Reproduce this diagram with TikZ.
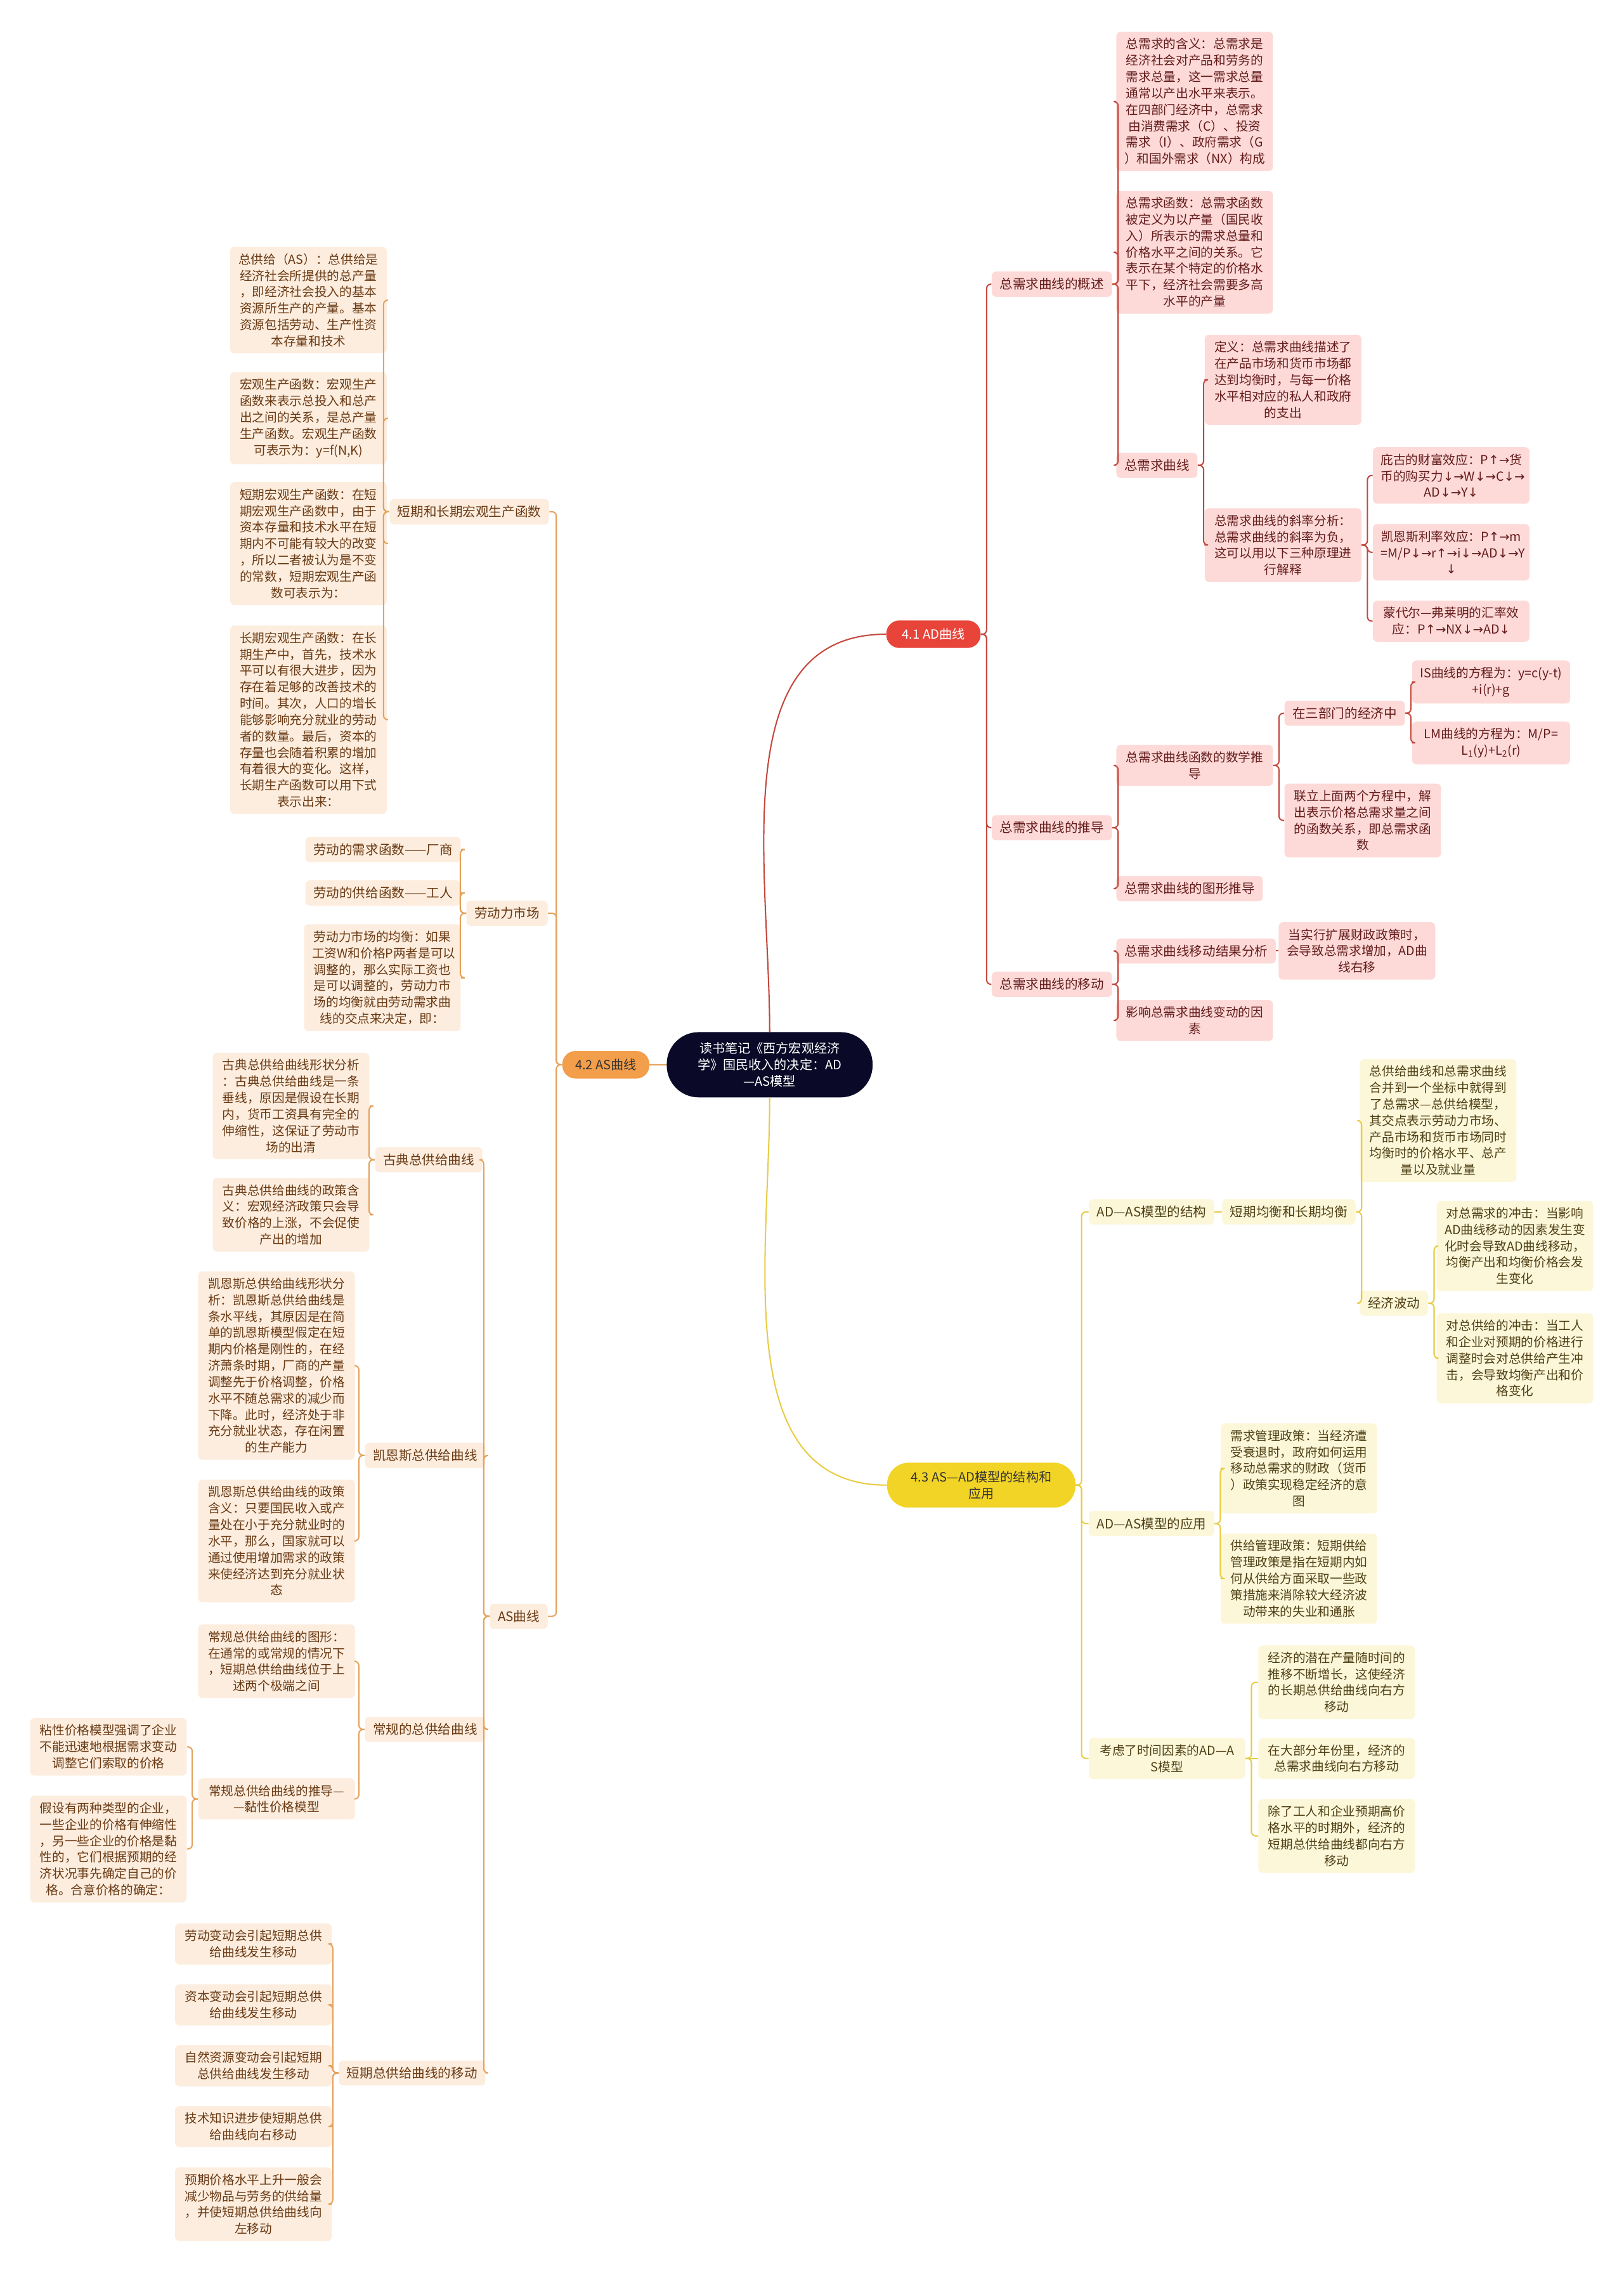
\documentclass[tikz,border=0pt]{standalone}
\usepackage{fontspec}
\setmainfont{Noto Sans CJK SC}
\newfontfamily\symfont{DejaVu Sans}
\newcommand{\arU}{{\symfont ↑}}
\newcommand{\arD}{{\symfont ↓}}
\newcommand{\arR}{{\symfont →}}
\definecolor{rootbg}{RGB}{10,10,40}
\definecolor{redhd}{RGB}{232,68,58}
\definecolor{redln}{RGB}{196,72,62}
\definecolor{redlt}{RGB}{253,218,216}
\definecolor{redtx}{RGB}{100,28,28}
\definecolor{orahd}{RGB}{243,158,74}
\definecolor{oraln}{RGB}{228,162,92}
\definecolor{oralt}{RGB}{253,237,222}
\definecolor{oratx}{RGB}{105,58,20}
\definecolor{yelhd}{RGB}{242,212,38}
\definecolor{yelln}{RGB}{232,204,70}
\definecolor{yellt}{RGB}{253,247,218}
\definecolor{yeltx}{RGB}{78,64,20}

\begin{document}
\begin{tikzpicture}
[x=1pt,y=-1pt, % pixel-like units, y grows downward
every node/.style={inner xsep=5.5pt,inner ysep=4.5pt,rounded corners=3pt},
lbl/.style={font=\fontsize{9}{11.3}\selectfont},
box/.style={font=\fontsize{8.6}{11.3}\selectfont,text width=97pt,align=center},
pill/.style={font=\fontsize{8.8}{11.3}\selectfont,align=center},
rn/.style={fill=redlt,text=redtx},
on/.style={fill=oralt,text=oratx},
yn/.style={fill=yellt,text=yeltx},
rcon/.style={draw=redln,line width=0.9pt,rounded corners=3pt},
ocon/.style={draw=oraln,line width=0.9pt,rounded corners=3pt},
ycon/.style={draw=yelln,line width=0.9pt,rounded corners=3pt}]
\useasboundingbox[fill=white] (0,0) rectangle (1120,1568);

% centre and main topics
\node[pill,fill=rootbg,text=white,rounded corners=22pt,minimum width=142pt,minimum height=45pt] (root) at (531,734.5)
  {读书笔记《西方宏观经济\\学》国民收入的决定：AD\\—AS模型};
\node[pill,fill=redhd,text=white,rounded corners=9pt,minimum width=65pt,minimum height=19pt] (a41) at (644,437.5) {4.1 AD曲线};
\node[pill,fill=orahd,text=black!80,rounded corners=9pt,minimum width=60pt,minimum height=19pt] (a42) at (418,734.5) {4.2 AS曲线};
\node[pill,fill=yelhd,text=black!80,rounded corners=15pt,minimum width=130pt,minimum height=31pt] (a43) at (677,1024.5) {4.3 AS—AD模型的结构和\\应用};

% 4.1 AD曲线
\node[lbl,rn,anchor=west] (gaishu) at (684,196) {总需求曲线的概述};
\node[lbl,rn,anchor=west] (tuidao) at (684,571) {总需求曲线的推导};
\node[lbl,rn,anchor=west] (yidong) at (684,679) {总需求曲线的移动};
\node[box,rn,anchor=west] (han) at (770,70) {总需求的含义：总需求是\\经济社会对产品和劳务的\\需求总量，这一需求总量\\通常以产出水平来表示。\\在四部门经济中，总需求\\由消费需求（C）、投资\\需求（I）、政府需求（G\\）和国外需求（NX）构成};
\node[box,rn,anchor=west] (hanshu) at (770,174) {总需求函数：总需求函数\\被定义为以产量（国民收\\入）所表示的需求总量和\\价格水平之间的关系。它\\表示在某个特定的价格水\\平下，经济社会需要多高\\水平的产量};
\node[lbl,rn,anchor=west] (zqx) at (770,321) {总需求曲线};
\node[box,rn,anchor=west] (dingyi) at (831,262) {定义：总需求曲线描述了\\在产品市场和货币市场都\\达到均衡时，与每一价格\\水平相对应的私人和政府\\的支出};
\node[box,rn,anchor=west] (xielv) at (831,376) {总需求曲线的斜率分析：\\总需求曲线的斜率为负，\\这可以用以下三种原理进\\行解释};
\node[box,rn,anchor=west] (pigu) at (947,328) {庇古的财富效应：P\arU\arR 货\\币的购买力\arD\arR W\arD\arR C\arD\arR\\AD\arD\arR Y\arD};
\node[box,rn,anchor=west] (kaiens) at (947,381) {凯恩斯利率效应：P\arU\arR m\\=M/P\arD\arR r\arU\arR i\arD\arR AD\arD\arR Y\\\arD};
\node[box,rn,anchor=west] (mengdaier) at (947,428.5) {蒙代尔—弗莱明的汇率效\\应：P\arU\arR NX\arD\arR AD\arD};
\node[box,rn,anchor=west] (shuxue) at (770,528) {总需求曲线函数的数学推\\导};
\node[lbl,rn,anchor=west] (tuxing) at (770,613) {总需求曲线的图形推导};
\node[lbl,rn,anchor=west] (sanbumen) at (886,492) {在三部门的经济中};
\node[box,rn,anchor=west] (lianli) at (886,566) {联立上面两个方程中，解\\出表示价格总需求量之间\\的函数关系，即总需求函\\数};
\node[box,rn,anchor=west,text width=98pt] (ISeq) at (974,470.5) {\mbox{IS曲线的方程为：y=c(y-t)}\\+i(r)+g};
\node[box,rn,anchor=west,text width=98pt] (LMeq) at (974,512.5) {LM曲线的方程为：M/P=\\L\textsubscript{1}(y)+L\textsubscript{2}(r)};
\node[lbl,rn,anchor=west] (jieguo) at (770,656) {总需求曲线移动结果分析};
\node[box,rn,anchor=west] (dangshi) at (882,656) {当实行扩展财政政策时，\\会导致总需求增加，AD曲\\线右移};
\node[box,rn,anchor=west] (yingxiang) at (770,704) {影响总需求曲线变动的因\\素};

\draw[rcon] (root.north) to[out=90,in=180] (a41.west);
\foreach \c in {gaishu,tuidao,yidong}
  \draw[rcon] (a41.east) -- ++(4,0) |- (\c.west);
\foreach \c in {han,hanshu,zqx}
  \draw[rcon] (gaishu.east) -- ++(4,0) |- (\c.west);
\foreach \c in {dingyi,xielv}
  \draw[rcon] (zqx.east) -- ++(4,0) |- (\c.west);
\foreach \c in {pigu,kaiens,mengdaier}
  \draw[rcon] (xielv.east) -- ++(4,0) |- (\c.west);
\foreach \c in {shuxue,tuxing}
  \draw[rcon] (tuidao.east) -- ++(4,0) |- (\c.west);
\foreach \c in {sanbumen,lianli}
  \draw[rcon] (shuxue.east) -- ++(4,0) |- (\c.west);
\foreach \c in {ISeq,LMeq}
  \draw[rcon] (sanbumen.east) -- ++(4,0) |- (\c.west);
\foreach \c in {jieguo,yingxiang}
  \draw[rcon] (yidong.east) -- ++(4,0) |- (\c.west);
\draw[rcon] (jieguo.east) -- (dangshi.west);

% 4.3 AS-AD模型
\node[lbl,yn,anchor=west] (jiegou) at (751,836) {AD—AS模型的结构};
\node[lbl,yn,anchor=west] (yingyong) at (751,1051) {AD—AS模型的应用};
\node[box,yn,anchor=west] (kaolv) at (751,1213) {考虑了时间因素的AD—A\\S模型};
\node[lbl,yn,anchor=west] (duanqi) at (843,836) {短期均衡和长期均衡};
\node[box,yn,anchor=west] (zgjh) at (938,773) {总供给曲线和总需求曲线\\合并到一个坐标中就得到\\了总需求—总供给模型，\\其交点表示劳动力市场、\\产品市场和货币市场同时\\均衡时的价格水平、总产\\量以及就业量};
\node[lbl,yn,anchor=west] (bodong) at (938,899) {经济波动};
\node[box,yn,anchor=west] (dzxq) at (991,859.5) {对总需求的冲击：当影响\\AD曲线移动的因素发生变\\化时会导致AD曲线移动，\\均衡产出和均衡价格会发\\生变化};
\node[box,yn,anchor=west] (dzgj) at (991,937) {对总供给的冲击：当工人\\和企业对预期的价格进行\\调整时会对总供给产生冲\\击，会导致均衡产出和价\\格变化};
\node[box,yn,anchor=west] (xqgl) at (842,1013) {需求管理政策：当经济遭\\受衰退时，政府如何运用\\移动总需求的财政（货币\\）政策实现稳定经济的意\\图};
\node[box,yn,anchor=west] (gjgl) at (842,1089) {供给管理政策：短期供给\\管理政策是指在短期内如\\何从供给方面采取一些政\\策措施来消除较大经济波\\动带来的失业和通胀};
\node[box,yn,anchor=west] (qianzai) at (868,1160.5) {经济的潜在产量随时间的\\推移不断增长，这使经济\\的长期总供给曲线向右方\\移动};
\node[box,yn,anchor=west] (dabufen) at (868,1213) {在大部分年份里，经济的\\总需求曲线向右方移动};
\node[box,yn,anchor=west] (chule) at (868,1266.5) {除了工人和企业预期高价\\格水平的时期外，经济的\\短期总供给曲线都向右方\\移动};

\draw[ycon] (root.south) to[out=-90,in=180] (a43.west);
\foreach \c in {jiegou,yingyong,kaolv}
  \draw[ycon] (a43.east) -- ++(4,0) |- (\c.west);
\draw[ycon] (jiegou.east) -- (duanqi.west);
\foreach \c in {zgjh,bodong}
  \draw[ycon] (duanqi.east) -- ++(4,0) |- (\c.west);
\foreach \c in {dzxq,dzgj}
  \draw[ycon] (bodong.east) -- ++(4,0) |- (\c.west);
\foreach \c in {xqgl,gjgl}
  \draw[ycon] (yingyong.east) -- ++(4,0) |- (\c.west);
\foreach \c in {qianzai,chule}
  \draw[ycon] (kaolv.east) -- ++(4,0) |- (\c.west);
\draw[ycon] (kaolv.east) -- (dabufen.west);

% 4.2 AS曲线
\node[lbl,on,anchor=east] (dcsc) at (379,353) {短期和长期宏观生产函数};
\node[lbl,on,anchor=east] (ldlsc) at (378,630) {劳动力市场};
\node[lbl,on,anchor=east] (ascurve) at (378,1115) {AS曲线};
\node[box,on,anchor=east] (zgj) at (267,207) {总供给（AS）：总供给是\\经济社会所提供的总产量\\，即经济社会投入的基本\\资源所生产的产量。基本\\资源包括劳动、生产性资\\本存量和技术};
\node[box,on,anchor=east] (hgsc) at (267,288.5) {宏观生产函数：宏观生产\\函数来表示总投入和总产\\出之间的关系，是总产量\\生产函数。宏观生产函数\\可表示为：y=f(N,K)};
\node[box,on,anchor=east] (dqhg) at (267,375) {短期宏观生产函数：在短\\期宏观生产函数中，由于\\资本存量和技术水平在短\\期内不可能有较大的改变\\，所以二者被认为是不变\\的常数，短期宏观生产函\\数可表示为：};
\node[box,on,anchor=east] (cqhg) at (267,496.5) {长期宏观生产函数：在长\\期生产中，首先，技术水\\平可以有很大进步，因为\\存在着足够的改善技术的\\时间。其次，人口的增长\\能够影响充分就业的劳动\\者的数量。最后，资本的\\存量也会随着积累的增加\\有着很大的变化。这样，\\长期生产函数可以用下式\\表示出来：};
\node[lbl,on,anchor=east] (ldxq) at (318,586) {劳动的需求函数——厂商};
\node[lbl,on,anchor=east] (ldgj) at (318,616) {劳动的供给函数——工人};
\node[box,on,anchor=east] (ldjh) at (318,674.5) {劳动力市场的均衡：如果\\工资W和价格P两者是可以\\调整的，那么实际工资也\\是可以调整的，劳动力市\\场的均衡就由劳动需求曲\\线的交点来决定，即：};
\node[lbl,on,anchor=east] (gudian) at (333,800) {古典总供给曲线};
\node[lbl,on,anchor=east] (kssupply) at (335,1004) {凯恩斯总供给曲线};
\node[lbl,on,anchor=east] (changgui) at (335,1193) {常规的总供给曲线};
\node[lbl,on,anchor=east] (dqyd) at (335,1430) {短期总供给曲线的移动};
\node[box,on,anchor=east] (gdxz) at (255,763) {古典总供给曲线形状分析\\：古典总供给曲线是一条\\垂线，原因是假设在长期\\内，货币工资具有完全的\\伸缩性，这保证了劳动市\\场的出清};
\node[box,on,anchor=east] (gdzc) at (255,838) {古典总供给曲线的政策含\\义：宏观经济政策只会导\\致价格的上涨，不会促使\\产出的增加};
\node[box,on,anchor=east] (ksxz) at (245,942) {凯恩斯总供给曲线形状分\\析：凯恩斯总供给曲线是\\条水平线，其原因是在简\\单的凯恩斯模型假定在短\\期内价格是刚性的，在经\\济萧条时期，厂商的产量\\调整先于价格调整，价格\\水平不随总需求的减少而\\下降。此时，经济处于非\\充分就业状态，存在闲置\\的生产能力};
\node[box,on,anchor=east] (kszc) at (245,1063) {凯恩斯总供给曲线的政策\\含义：只要国民收入或产\\量处在小于充分就业时的\\水平，那么，国家就可以\\通过使用增加需求的政策\\来使经济达到充分就业状\\态};
\node[box,on,anchor=east] (cgtx) at (245,1146) {常规总供给曲线的图形：\\在通常的或常规的情况下\\，短期总供给曲线位于上\\述两个极端之间};
\node[box,on,anchor=east] (cgtd) at (245,1241) {常规总供给曲线的推导—\\—黏性价格模型};
\node[box,on,anchor=east] (nianxing) at (129,1205) {粘性价格模型强调了企业\\不能迅速地根据需求变动\\调整它们索取的价格};
\node[box,on,anchor=east] (jiashe) at (129,1275.5) {假设有两种类型的企业，\\一些企业的价格有伸缩性\\，另一些企业的价格是黏\\性的，它们根据预期的经\\济状况事先确定自己的价\\格。合意价格的确定：};
\node[box,on,anchor=east] (ldbd) at (229,1341) {劳动变动会引起短期总供\\给曲线发生移动};
\node[box,on,anchor=east] (zbbd) at (229,1383) {资本变动会引起短期总供\\给曲线发生移动};
\node[box,on,anchor=east] (zrzy) at (229,1425) {自然资源变动会引起短期\\总供给曲线发生移动};
\node[box,on,anchor=east] (jszs) at (229,1467) {技术知识进步使短期总供\\给曲线向右移动};
\node[box,on,anchor=east] (yqjg) at (229,1520.5) {预期价格水平上升一般会\\减少物品与劳务的供给量\\，并使短期总供给曲线向\\左移动};

\draw[ocon] (a42.east) -- (root.west);
\foreach \c in {dcsc,ldlsc,ascurve}
  \draw[ocon] (a42.west) -- ++(-4,0) |- (\c.east);
\foreach \c in {zgj,hgsc,dqhg,cqhg}
  \draw[ocon] (dcsc.west) -- ++(-4,0) |- (\c.east);
\foreach \c in {ldxq,ldgj,ldjh}
  \draw[ocon] (ldlsc.west) -- ++(-4,0) |- (\c.east);
\foreach \c in {gudian,kssupply,changgui,dqyd}
  \draw[ocon] (ascurve.west) -- ++(-4,0) |- (\c.east);
\foreach \c in {gdxz,gdzc}
  \draw[ocon] (gudian.west) -- ++(-4,0) |- (\c.east);
\foreach \c in {ksxz,kszc}
  \draw[ocon] (kssupply.west) -- ++(-4,0) |- (\c.east);
\foreach \c in {cgtx,cgtd}
  \draw[ocon] (changgui.west) -- ++(-4,0) |- (\c.east);
\foreach \c in {nianxing,jiashe}
  \draw[ocon] (cgtd.west) -- ++(-4,0) |- (\c.east);
\foreach \c in {ldbd,zbbd,zrzy,jszs,yqjg}
  \draw[ocon] (dqyd.west) -- ++(-4,0) |- (\c.east);
\end{tikzpicture}
\end{document}
